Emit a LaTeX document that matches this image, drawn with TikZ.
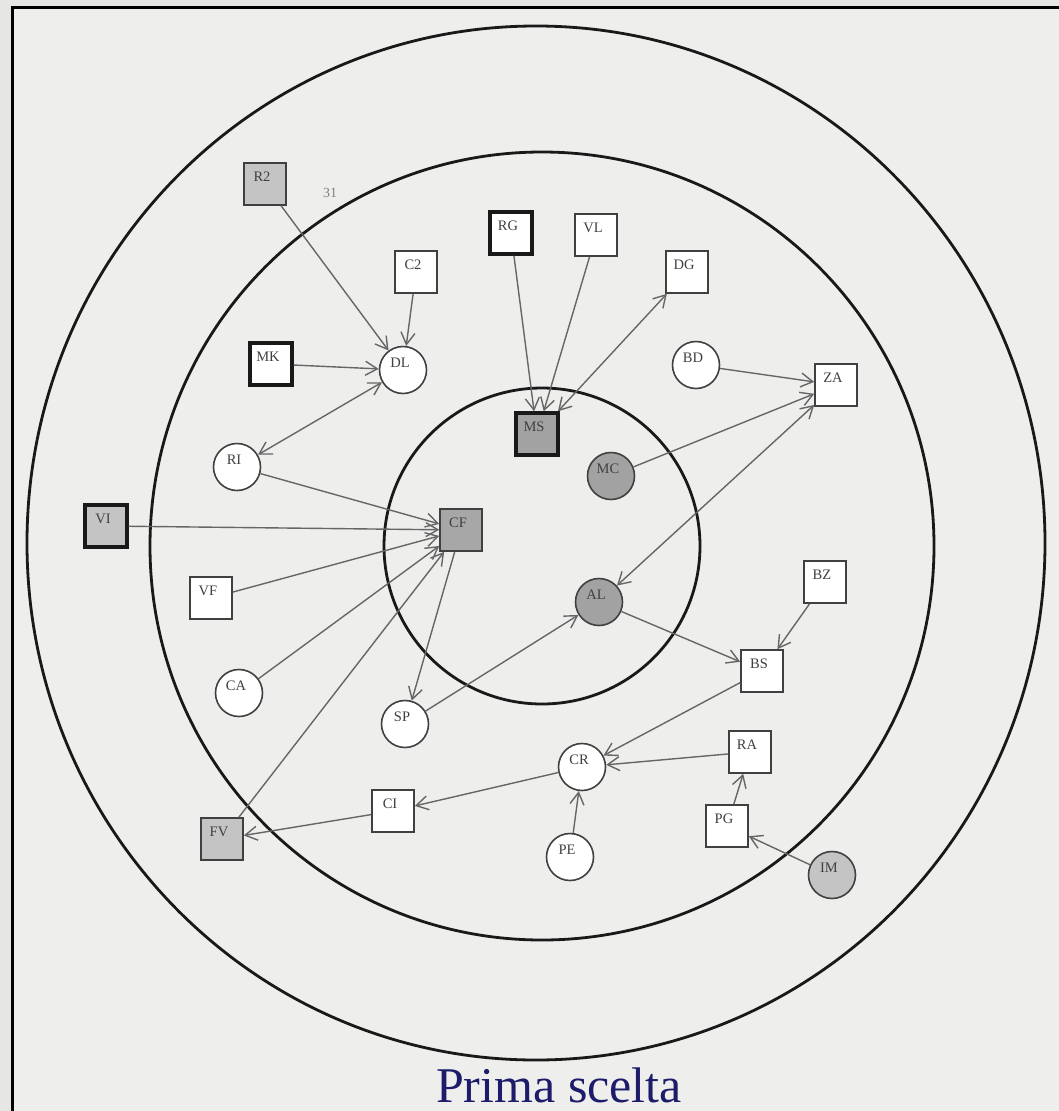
\documentclass[tikz,border=0pt]{standalone}
\usepackage{fontspec}
\setmainfont{Liberation Serif}
\usetikzlibrary{arrows.meta}
\definecolor{bg}{HTML}{E6E6E4}
\definecolor{paper}{HTML}{EEEEED}
\definecolor{navy}{HTML}{1C1C6A}
\definecolor{nodegray}{HTML}{C4C4C4}
\definecolor{darkgray}{HTML}{A2A2A2}
\tikzset{
  sq/.style={rectangle, draw=black!75, line width=1.6pt, minimum size=42pt, inner sep=0pt, fill=white},
  thick box/.style={line width=3.4pt, draw=black!90},
  cir/.style={circle, draw=black!75, line width=1.6pt, minimum size=47pt, inner sep=0pt, fill=white},
  lab/.style={font=\fontsize{14.5}{14.5}\selectfont, text=black!75, inner sep=0pt},
  nl/.style={label={[lab,xshift=-3pt,yshift=7pt]center:#1}},
  ring/.style={draw=black!90, line width=2.8pt},
  conn/.style={draw=black!60, line width=1.4pt, -{Straight Barb[length=12pt,width=14pt]}},
  biconn/.style={draw=black!60, line width=1.4pt, {Straight Barb[length=12pt,width=14pt]}-{Straight Barb[length=12pt,width=14pt]}}
}
\begin{document}
\begin{tikzpicture}[x=1pt,y=-1pt]
\useasboundingbox (0,0) rectangle (1059,1111);
\fill[bg] (0,0) rectangle (1059,1111);
\fill[paper] (12,7) rectangle (1059,1111);
\draw[black, line width=3pt] (12,1111) -- (12,7) -- (1059,7);

% rings
\draw[ring] (536,543) ellipse [x radius=509, y radius=517];
\draw[ring] (542,546) ellipse [x radius=392, y radius=394];
\draw[ring] (542,546) circle [radius=158];

% nodes
\node[sq, fill=nodegray, nl={R2}] (r2) at (265,184) {};
\node[lab, font=\fontsize{14}{14}\selectfont, text=black!50] (n31) at (330,193) {31};
\node[sq, nl={C2}] (c2) at (416,272) {};
\node[sq, thick box, nl={MK}] (mk) at (271,364) {};
\node[cir, nl={DL}] (dl) at (403,370) {};
\node[sq, thick box, nl={RG}] (rg) at (511,233) {};
\node[sq, nl={VL}] (vl) at (596,235) {};
\node[sq, nl={DG}] (dg) at (687,272) {};
\node[cir, nl={BD}] (bd) at (696,365) {};
\node[sq, thick box, fill=darkgray, nl={MS}] (ms) at (537,434) {};
\node[cir, fill=darkgray, nl={MC}] (mc) at (611,476) {};
\node[sq, fill=nodegray!85!black, nl={CF}] (cf) at (461,530) {};
\node[cir, fill=darkgray, nl={AL}] (al) at (599,602) {};
\node[sq, nl={ZA}] (za) at (836,385) {};
\node[cir, nl={RI}] (ri) at (237,467) {};
\node[sq, thick box, fill=nodegray, nl={VI}] (vi) at (106,526) {};
\node[sq, nl={VF}] (vf) at (211,598) {};
\node[cir, nl={CA}] (ca) at (239,693) {};
\node[cir, nl={SP}] (sp) at (405,724) {};
\node[sq, nl={BZ}] (bz) at (825,582) {};
\node[sq, nl={BS}] (bs) at (762,671) {};
\node[cir, nl={CR}] (cr) at (582,767) {};
\node[sq, nl={RA}] (ra) at (750,752) {};
\node[sq, nl={PG}] (pg) at (727,826) {};
\node[cir, nl={PE}] (pe) at (570,857) {};
\node[cir, fill=nodegray, nl={IM}] (im) at (832,875) {};
\node[sq, nl={CI}] (ci) at (393,811) {};
\node[sq, fill=nodegray, nl={FV}] (fv) at (222,839) {};

% connectors
\draw[conn] (r2) -- (dl);
\draw[conn] (c2) -- (dl);
\draw[conn] (mk) -- (dl);
\draw[biconn] (dl) -- (ri);
\draw[conn] (ri) -- (cf);
\draw[conn] (vi) -- (cf);
\draw[conn] (vf) -- (cf);
\draw[conn] (ca) -- (cf);
\draw[conn] (fv) -- (cf);
\draw[conn] (cf) -- (sp);
\draw[conn] (sp) -- (al);
\draw[conn] (rg) -- (ms);
\draw[conn] (vl) -- (ms);
\draw[biconn] (ms) -- (dg);
\draw[conn] (bd) -- (za);
\draw[conn] (mc) -- (za);
\draw[biconn] (za) -- (al);
\draw[conn] (al) -- (bs);
\draw[conn] (bz) -- (bs);
\draw[conn] (bs) -- (cr);
\draw[conn] (ra) -- (cr);
\draw[conn] (pe) -- (cr);
\draw[conn] (pg) -- (ra);
\draw[conn] (im) -- (pg);
\draw[conn] (cr) -- (ci);
\draw[conn] (ci) -- (fv);

% title
\node[font=\fontsize{50}{50}\selectfont, text=navy, anchor=base, inner sep=0pt] (title) at (559,1102) {Prima scelta};
\end{tikzpicture}
\end{document}
